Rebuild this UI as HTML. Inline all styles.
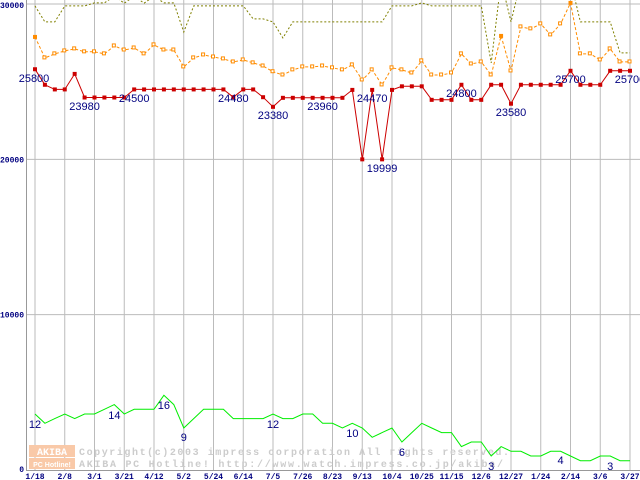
<!DOCTYPE html>
<html><head><meta charset="utf-8"><style>
html,body{margin:0;padding:0;background:#fff;}
svg{display:block;}
</style></head><body>
<svg id="chart" width="640" height="480" viewBox="0 0 640 480" xmlns="http://www.w3.org/2000/svg">
<defs><clipPath id="plotclip"><rect x="26" y="0" width="614" height="470"/></clipPath></defs>
<g id="grid"></g>
<g id="watermark">
  <rect x="29" y="445" width="46" height="12" fill="#f9c9a8"/>
  <rect x="29" y="458" width="46" height="11" fill="#f9c9a8"/>
  <text x="52" y="455" font-family="Liberation Mono, monospace" font-weight="bold" font-size="10" fill="#fff" text-anchor="middle">AKIBA</text>
  <text x="52" y="467" font-family="Liberation Sans, sans-serif" font-weight="bold" font-size="7" fill="#fff" text-anchor="middle">PC Hotline!</text>
  <text x="79" y="455" font-family="Liberation Mono, monospace" font-weight="bold" font-size="10" fill="#cccccc" textLength="430">Copyright(c)2003 impress corporation All rights reserved.</text>
  <text x="79" y="467" font-family="Liberation Mono, monospace" font-weight="bold" font-size="10" fill="#cccccc" textLength="424">AKIBA PC Hotline!  http://www.watch.impress.co.jp/akiba/</text>
</g>
<g id="series" clip-path="url(#plotclip)"></g>
<g id="labels"></g>
</svg>
<script>
const categories = ["1/18","","","2/8","","","3/1","","","3/21","","","4/12","","","5/2","","","5/24","","","6/14","","","7/5","","","7/26","","","8/23","","","9/13","","","10/4","","","10/25","","","11/15","","","12/6","","","12/27","","","1/24","","","2/14","","","3/6","","","3/27"];
const redValues = [25800,24800,24500,24500,25500,23980,23980,23980,23980,23980,24500,24500,24500,24500,24500,24500,24500,24500,24500,24500,24000,24500,24500,24000,23380,23960,23960,23960,23960,23960,23960,23960,24470,19999,24470,19999,24470,24700,24700,24700,23830,23830,23830,24800,23830,23830,24800,24800,23580,24800,24800,24800,24800,24800,25700,24800,24800,24800,25700,25700,25700];
const orangeValues = [27880,26530,26790,26980,27110,26920,26920,26790,27300,27040,27170,26790,27370,27040,27040,25950,26530,26720,26590,26465,26270,26400,26210,26010,25640,25430,25760,25950,25950,26010,25890,25760,26080,25110,25760,24790,25890,25760,25560,26340,25430,25430,25560,26790,26140,26270,25430,27945,25690,28525,28400,28720,28010,28720,30070,26790,26790,26400,27110,26270,26270];
const oliveValues = [29880,28850,28850,29880,29880,29880,30070,30070,30500,30050,30500,30050,30500,30070,30070,28200,29880,29880,29880,29880,29880,29880,29040,29040,28850,27820,28850,28850,28850,28850,28850,28850,28850,28850,28850,28850,29880,29880,29880,30070,29880,29880,29880,29880,29880,29880,26210,31500,28850,31500,31500,31500,31500,31500,31500,28850,28850,28850,28850,26850,26850];
const greenValues = [12,10,11,12,11,12,12,13,14,12,13,13,13,16,14,9,11,13,13,13,11,11,11,11,12,11,11,12,12,10,10,9,10,9,7,8,9,6,8,10,9,8,8,5,6,6,3,5,4,4,3,3,4,4,3,2,2,3,3,2,2];
const yTicks = [0,10000,20000,30000];
const redLabels = [[0,"25800",-1,82],[5,"23980",0,110],[10,"24500",0,102],[20,"24480",0,102],[24,"23380",0,119],[29,"23960",0,110],[34,"24470",0,102],[35,"19999",0,172],[43,"24800",0,97],[48,"23580",0,116],[54,"25700",0,83],[60,"25700",0,83]];
const greenLabels = [[0,"12",428],[8,"14",419],[13,"16",409],[15,"9",441],[24,"12",428],[32,"10",437],[37,"6",456],[46,"3",470],[53,"4",464],[58,"3",470]];

const NS="http://www.w3.org/2000/svg";
const X0=35, DX=(630-35)/60;
function xs(i){return X0+i*DX;}
function ys(v){return 470-(v-0)*(466/30000);}
function yg(v){return 470-v*4.67;}
function mk(tag,attrs,parent){const e=document.createElementNS(NS,tag);for(const k in attrs)e.setAttribute(k,attrs[k]);parent.appendChild(e);return e;}
const grid=document.getElementById('grid'), ser=document.getElementById('series'), lab=document.getElementById('labels');

// horizontal gridlines
yTicks.forEach(v=>{
  if(v>0){const l=mk('line',{x1:26,x2:640,y1:ys(v),y2:ys(v),stroke:'#bbbbbb','stroke-width':1},grid);
  
  }
  const t=mk('text',{x:v===0?24:0,y:v===30000?ys(v)+4:(v===0?ys(v)+2:ys(v)+3),'font-family':'Liberation Mono, monospace','font-weight':'bold','font-size':8,fill:'#000080','text-anchor':v===0?'end':'start'},lab);
  t.textContent=String(v);
  
  
});
// vertical gridlines + x labels
categories.forEach((c,i)=>{
  if(c==="")return;
  const l=mk('line',{x1:xs(i),x2:xs(i),y1:0,y2:470,stroke:'#bbbbbb','stroke-width':1},grid);
  
  
  const t=mk('text',{x:xs(i),y:479,'font-family':'Liberation Mono, monospace','font-weight':'bold','font-size':8,fill:'#000080','text-anchor':'middle'},lab);
  t.textContent=c;
  
  
});
const ax=mk('path',{d:'M26.5 0 V470.5 H640',stroke:'#999999','stroke-width':1,fill:'none'},grid);



function line(vals,f,color,dash,name){
  const d=vals.map((v,i)=>(i?'L':'M')+xs(i).toFixed(1)+' '+f(v).toFixed(1)).join(' ');
  const p=mk('path',{d:d,stroke:color,'stroke-width':1,fill:'none','stroke-dasharray':dash},ser);
  
  
}
line(oliveValues,ys,'#808000','2 2','olive-line');
line(orangeValues,ys,'#ff8c00','3 2','orange-line');
line(redValues,ys,'#cc0000','','red-line');
line(greenValues,yg,'#00ee00','','green-line');

orangeValues.forEach((v,i)=>{
  const filled=(i===0||i===47||i===54);
  const r=mk('rect',{x:xs(i)-2,y:ys(v)-2,width:filled?4:3,height:filled?4:3,fill:filled?'#ff8c00':'#fff',stroke:'#ff8c00','stroke-width':filled?0:1},ser);
  
  
});
redValues.forEach((v,i)=>{
  const r=mk('rect',{x:xs(i)-2,y:ys(v)-2,width:4,height:4,fill:'#cc0000'},ser);
  
  
});
redLabels.forEach(a=>{
  const t=mk('text',{x:xs(a[0])+a[2],y:a[3],'font-family':'Liberation Sans, sans-serif','font-size':11,fill:'#000080','text-anchor':'middle'},lab);
  t.textContent=a[1];
  
  
});
greenLabels.forEach(a=>{
  const t=mk('text',{x:xs(a[0]),y:a[2],'font-family':'Liberation Sans, sans-serif','font-size':11,fill:'#000080','text-anchor':'middle'},lab);
  t.textContent=a[1];
  
  
});
</script>
</body></html>
